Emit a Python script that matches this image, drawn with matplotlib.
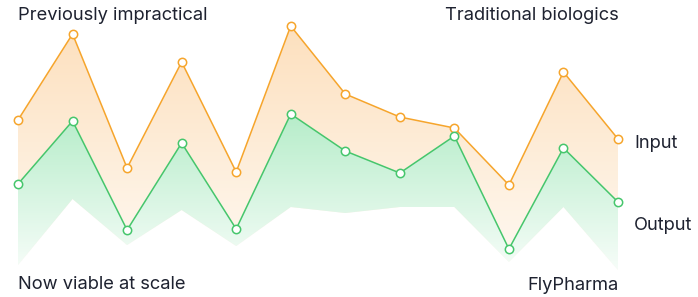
import numpy as np
import matplotlib
matplotlib.use("Agg")
from matplotlib import pyplot as plt
from matplotlib.colors import to_rgb

# values (height above the bottom edge, px scale)
steps = np.arange(12)
input_vals = [177, 263, 129, 235, 125, 271, 203, 180, 169, 112, 225, 158]
output_vals = [113, 176, 67, 154, 68, 183, 146, 124, 161, 48, 149, 95]
base_vals = [32, 98, 52, 87, 51, 90, 84, 90, 90, 35, 90, 27]

orange = "#f6a52c"
green = "#46c66c"
text_col = "#1e2230"

W, H = 698, 297
fig = plt.figure(figsize=(W / 100, H / 100), dpi=100)
ax = fig.add_axes([0, 0, 1, 1])
step_px = 600 / 11
ax.set_xlim(-18 / step_px, (W - 18) / step_px)
ax.set_ylim(0, H)
ax.axis("off")


def gradient_fill(upper, lower, color, a_top, a_bot, y_top, y_bot, z):
    poly = ax.fill_between(steps, lower, upper, color="none", lw=0, zorder=z)
    path = poly.get_paths()[0]
    ys = np.linspace(0, H, 300)
    a = np.interp(ys, [y_bot, y_top], [a_bot, a_top])
    c = np.array(to_rgb(color))
    img = np.ones((len(ys), 1, 3)) * (1 - a[:, None, None]) + c * a[:, None, None]
    im = ax.imshow(img, extent=[-1, 13, 0, H], origin="lower", aspect="auto",
                   interpolation="bilinear", zorder=z)
    im.set_clip_path(path, transform=ax.transData)


gradient_fill(input_vals, base_vals, "#f9a94a", 0.36, 0.06, 271, 20, 1)
gradient_fill(output_vals, base_vals, "#3fcf72", 0.38, 0.04, 183, 25, 2)

ax.plot(steps, input_vals, color=orange, lw=1.1, zorder=3,
        marker="o", ms=6, mfc="white", mec=orange, mew=1.1)
ax.plot(steps, output_vals, color=green, lw=1.1, zorder=4,
        marker="o", ms=6, mfc="white", mec=green, mew=1.1)
ax.set_xlim(-18 / step_px, (W - 18) / step_px)
ax.set_ylim(0, H)

font = dict(family=["Inter", "DejaVu Sans"], fontsize=13.2, color=text_col)
def label(x, y, s, ha):
    fig.text(x / W, 1 - y / H, s, ha=ha, va="baseline", **font)

label(18, 20, "Previously impractical", "left")
label(619, 20, "Traditional biologics", "right")
label(18, 289, "Now viable at scale", "left")
label(619, 290, "FlyPharma", "right")
label(634, 148, "Input", "left")
label(634, 230, "Output", "left")

fig.savefig("out.png", dpi=100)
